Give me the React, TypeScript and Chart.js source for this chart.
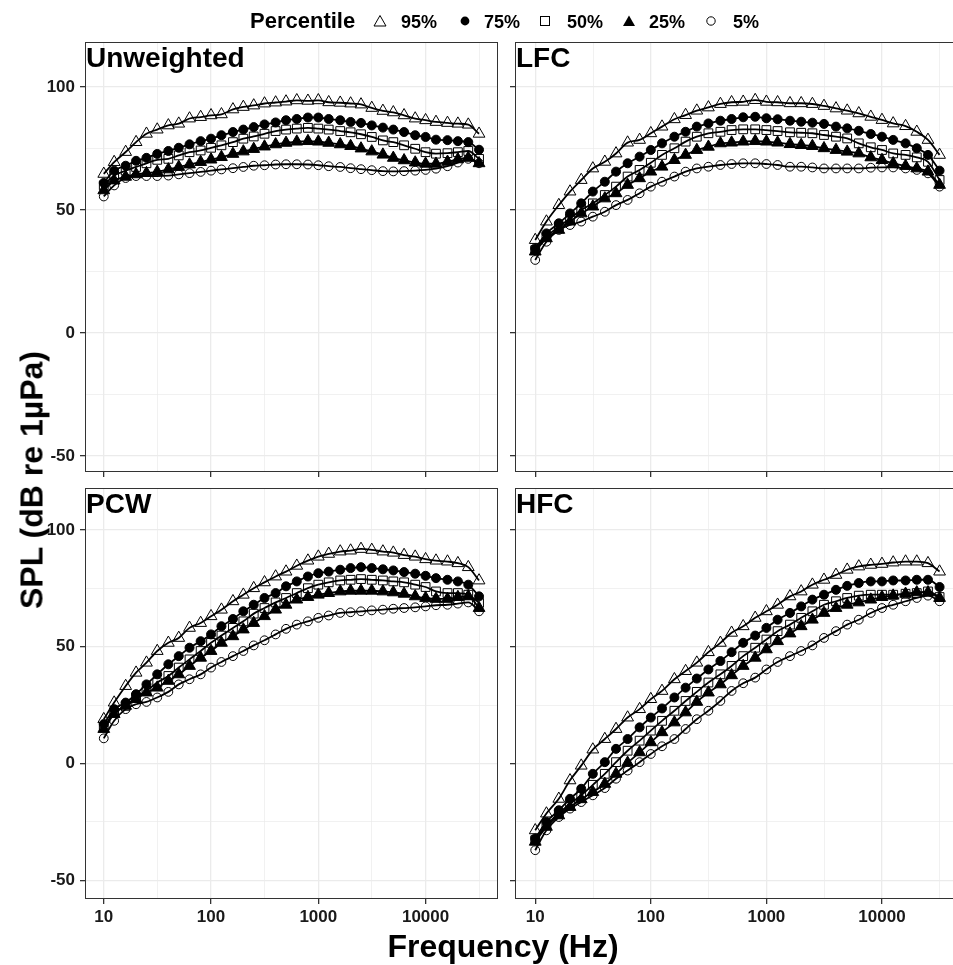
import React, { useEffect, useRef } from "react";
import { Chart, registerables } from "chart.js";

Chart.register(...registerables);

// ---------- data ----------
const frequencies = [
  10, 12.5, 16, 20, 25, 31.5, 40, 50, 63, 80, 100, 125, 160, 200, 250, 315, 400, 500, 630, 800,
  1000, 1250, 1600, 2000, 2500, 3150, 4000, 5000, 6300, 8000, 10000, 12500, 16000, 20000, 25000, 31500,
];

const percentiles = ["95%", "75%", "50%", "25%", "5%"];
const panelNames = ["Unweighted", "LFC", "PCW", "HFC"];

const unweighted95 = [64.7, 69.5, 73.6, 77.6, 81.0, 82.7, 84.4, 85.1, 87.2, 87.8, 88.5, 88.9, 90.9, 91.9, 92.5, 93.3, 93.7, 94.1, 94.6, 94.4, 94.6, 93.8, 93.6, 93.3, 92.9, 91.5, 90.3, 89.7, 88.5, 87.2, 86.5, 85.8, 85.4, 85.1, 84.7, 81.0];
const unweighted75 = [61.0, 66.0, 68.0, 70.0, 71.2, 72.8, 74.0, 75.3, 76.7, 78.0, 79.0, 80.4, 81.7, 82.7, 83.7, 84.8, 85.6, 86.5, 87.0, 87.6, 87.6, 87.0, 86.5, 85.8, 85.4, 84.4, 83.5, 82.7, 81.7, 80.4, 79.7, 78.6, 78.4, 78.0, 77.6, 74.5];
const unweighted50 = [60.0, 64.0, 66.0, 67.5, 69.0, 70.4, 70.8, 72.2, 73.5, 74.2, 75.3, 76.3, 77.6, 79.0, 79.9, 81.0, 82.1, 82.7, 83.1, 83.4, 83.1, 82.7, 82.1, 81.6, 80.8, 79.7, 78.3, 77.6, 76.3, 74.9, 73.5, 72.9, 73.1, 73.5, 74.0, 70.8];
const unweighted25 = [58.0, 62.0, 63.5, 64.5, 65.0, 65.5, 66.5, 67.5, 68.5, 69.5, 70.5, 71.5, 72.8, 73.8, 74.8, 75.8, 76.7, 77.3, 77.8, 78.0, 77.8, 77.3, 76.7, 76.0, 75.0, 73.8, 72.5, 71.2, 70.2, 69.3, 68.8, 68.8, 69.6, 70.6, 71.2, 69.0];
const unweighted5 = [55.5, 60.0, 63.0, 63.8, 63.8, 63.8, 64.0, 64.5, 65.0, 65.5, 66.0, 66.5, 67.0, 67.5, 68.0, 68.2, 68.5, 68.6, 68.6, 68.5, 68.2, 67.8, 67.5, 67.0, 66.6, 66.2, 65.8, 65.7, 65.8, 66.0, 66.3, 66.8, 67.8, 69.3, 70.8, 69.0];

const lfc95 = [37.8, 45.3, 52.0, 57.5, 62.2, 66.9, 69.6, 73.0, 77.4, 78.5, 81.2, 83.9, 86.9, 88.6, 90.4, 91.7, 93.1, 93.8, 94.0, 94.7, 94.0, 93.8, 93.4, 93.4, 93.1, 92.3, 91.3, 90.4, 89.3, 87.9, 86.6, 85.2, 84.1, 81.8, 78.5, 72.4];
const lfc75 = [34.4, 40.5, 44.6, 48.6, 52.7, 57.5, 61.5, 65.6, 69.0, 71.7, 74.4, 77.1, 79.8, 81.8, 83.9, 85.2, 86.3, 87.0, 87.7, 87.9, 87.3, 86.9, 86.3, 85.9, 85.5, 85.0, 83.9, 83.2, 82.2, 80.9, 79.8, 78.5, 77.1, 75.1, 72.4, 66.0];
const lfc50 = [33.7, 39.2, 43.2, 46.6, 50.0, 52.7, 56.1, 59.5, 63.6, 66.3, 69.2, 72.4, 75.1, 77.8, 79.8, 81.2, 81.8, 82.5, 82.8, 82.8, 82.5, 82.1, 81.6, 81.4, 81.2, 80.5, 79.8, 79.1, 77.1, 75.5, 74.4, 73.0, 72.4, 71.4, 69.6, 62.2];
const lfc25 = [33.1, 38.5, 41.9, 45.3, 48.6, 51.4, 54.7, 56.8, 60.2, 62.9, 65.6, 67.6, 70.3, 72.4, 74.4, 75.7, 77.1, 77.4, 77.8, 78.0, 77.8, 77.4, 76.8, 76.4, 76.0, 75.1, 74.4, 73.7, 73.0, 71.4, 70.3, 69.0, 67.9, 66.9, 65.6, 60.2];
const lfc5 = [29.7, 37.1, 41.9, 43.9, 45.3, 47.3, 49.3, 52.0, 54.1, 56.8, 59.5, 61.5, 63.6, 65.6, 66.9, 67.6, 68.3, 68.7, 69.0, 69.0, 68.7, 68.3, 67.6, 67.6, 67.3, 66.9, 66.9, 66.9, 66.9, 67.2, 67.3, 67.3, 66.9, 66.3, 64.9, 59.5];

const pcw95 = [19.0, 26.1, 33.2, 38.9, 43.2, 48.2, 51.7, 53.8, 58.1, 60.2, 63.1, 65.9, 69.5, 72.3, 75.1, 77.6, 80.1, 82.2, 84.7, 86.9, 88.6, 89.8, 90.8, 91.2, 91.9, 91.5, 90.8, 90.3, 89.3, 88.6, 87.5, 86.9, 86.5, 85.8, 84.1, 78.4];
const pcw75 = [16.9, 23.3, 26.1, 29.7, 33.9, 38.2, 42.5, 46.0, 49.6, 52.4, 55.3, 58.8, 61.9, 65.2, 68.0, 70.9, 73.0, 75.9, 78.0, 80.1, 81.5, 82.2, 83.0, 83.7, 84.1, 83.7, 83.2, 82.7, 82.0, 81.3, 80.4, 79.4, 78.7, 78.0, 76.6, 71.6];
const pcw50 = [15.5, 21.9, 24.7, 28.3, 31.1, 34.7, 37.5, 41.1, 44.6, 48.2, 51.7, 54.8, 58.1, 60.9, 64.2, 66.6, 69.0, 70.9, 73.0, 75.1, 76.6, 77.6, 78.4, 78.7, 79.0, 78.7, 78.4, 78.0, 77.6, 76.6, 75.6, 73.7, 73.0, 73.0, 72.3, 68.8];
const pcw25 = [14.8, 21.2, 24.7, 27.6, 30.4, 32.5, 35.4, 38.2, 41.8, 45.3, 48.2, 51.7, 54.5, 57.4, 60.2, 63.1, 65.9, 68.0, 70.2, 71.3, 72.3, 73.0, 73.7, 74.0, 74.0, 74.0, 73.7, 73.3, 72.7, 71.6, 70.9, 70.5, 70.5, 71.3, 71.6, 66.6];
const pcw5 = [10.8, 18.3, 23.3, 25.4, 26.4, 28.3, 30.7, 33.9, 36.1, 38.2, 41.1, 43.5, 46.0, 48.2, 50.6, 52.8, 55.3, 57.7, 59.5, 60.9, 62.4, 63.4, 64.5, 64.8, 65.2, 65.6, 65.9, 66.3, 66.6, 66.9, 67.3, 67.8, 68.0, 68.5, 69.0, 65.2];

const hfc95 = [-28.6, -21.4, -15.1, -7.2, -0.9, 6.0, 10.5, 14.8, 19.7, 23.3, 27.6, 31.1, 36.1, 39.6, 43.2, 47.7, 51.7, 56.0, 58.8, 62.4, 65.2, 68.0, 71.6, 73.7, 76.6, 78.7, 80.8, 83.0, 84.4, 85.1, 85.5, 86.1, 86.5, 86.5, 85.8, 82.2];
const hfc75 = [-32.1, -25.0, -20.0, -15.1, -10.8, -4.4, 0.6, 6.3, 10.5, 15.5, 19.7, 23.6, 28.3, 32.5, 36.4, 40.3, 43.9, 47.7, 51.7, 54.8, 58.1, 61.6, 64.5, 67.3, 70.2, 72.3, 74.4, 76.1, 77.3, 78.0, 78.0, 78.4, 78.4, 78.7, 78.7, 75.6];
const hfc50 = [-32.8, -26.4, -21.4, -17.2, -13.6, -9.1, -4.4, 0.6, 5.5, 9.8, 14.1, 18.3, 22.6, 26.8, 30.7, 34.7, 38.2, 41.8, 46.0, 49.6, 53.1, 56.7, 59.5, 62.4, 65.2, 68.0, 69.5, 70.9, 71.9, 72.3, 72.3, 72.3, 72.7, 73.0, 73.7, 71.3];
const hfc25 = [-33.5, -27.1, -22.2, -18.6, -15.3, -12.2, -8.7, -4.4, 0.3, 4.8, 9.1, 13.4, 17.6, 21.9, 26.4, 30.4, 33.9, 37.8, 41.8, 45.3, 48.9, 52.4, 55.7, 58.8, 61.6, 64.5, 66.6, 68.0, 69.0, 70.2, 71.3, 71.9, 72.7, 73.3, 73.3, 70.9];
const hfc5 = [-37.1, -28.6, -22.9, -19.3, -16.5, -13.6, -10.5, -6.5, -3.0, 0.6, 4.1, 7.4, 10.5, 14.8, 19.0, 22.6, 26.8, 31.1, 34.4, 36.8, 40.3, 43.5, 46.0, 48.2, 50.6, 53.8, 56.7, 59.5, 61.6, 64.5, 66.6, 68.0, 69.5, 70.9, 71.9, 69.5];

const xTickValues = [10, 31.6227766, 100, 316.227766, 1000, 3162.27766, 10000, 31622.7766];
const xTickLabels = ["10", "", "100", "", "1000", "", "10000", ""];
const yTickValues = [-50, -25, 0, 25, 50, 75, 100];
const yTickLabels = ["-50", "", "0", "", "50", "", "100"];

// ---------- styling ----------
const FONT = '"Liberation Sans", Arial, Helvetica, sans-serif';
const pointStyles = ["triangle", "circle", "rect", "triangle", "circle"];
const pointRadii = [6.8, 4.5, 6.2, 6.8, 4.4];
const pointFills = ["rgba(0,0,0,0)", "#000", "rgba(0,0,0,0)", "#000", "rgba(0,0,0,0)"];

const X_MIN = Math.pow(10, 0.825);
const X_MAX = Math.pow(10, 4.675);

type Geo = {
  left: number; top: number; width: number; height: number;
  yAxisW: number; xAxisH: number; padTop: number; padRight: number;
  yMin: number; yMax: number; showX: boolean; showY: boolean;
};

const panelDecor = {
  id: "panelDecor",
  afterDatasetsDraw(chart: any, _args: any, opts: any) {
    const { ctx, chartArea } = chart;
    const { left, top, right, bottom } = chartArea;
    ctx.save();
    ctx.strokeStyle = "#333333";
    ctx.lineWidth = 1;
    ctx.strokeRect(Math.round(left) + 0.5, Math.round(top) + 0.5, Math.round(right - left) - 1, Math.round(bottom - top) - 1);
    ctx.font = `bold 28px ${FONT}`;
    ctx.fillStyle = "#000";
    ctx.textBaseline = "alphabetic";
    ctx.textAlign = "left";
    ctx.fillText(opts.title, left + 1, top + 25);
    ctx.restore();
  },
};

function isMajorX(v: number) {
  const l = Math.log10(v);
  return Math.abs(l - Math.round(l)) < 1e-6;
}

function zeroPadding(s: any) {
  s.paddingTop = 0;
  s.paddingBottom = 0;
  s.paddingLeft = 0;
  s.paddingRight = 0;
}

function Panel({ name, series, geo }: { name: string; series: number[][]; geo: Geo }) {
  const ref = useRef<HTMLCanvasElement | null>(null);
  useEffect(() => {
    if (!ref.current) return;
    const datasets = series.map((vals, i) => ({
      label: percentiles[i],
      data: frequencies.map((f, j) => ({ x: f, y: vals[j] })),
      borderColor: "#000",
      borderWidth: 1.8,
      pointStyle: pointStyles[i],
      pointRadius: pointRadii[i],
      pointBackgroundColor: pointFills[i],
      pointBorderColor: "#000",
      pointBorderWidth: 1,
      cubicInterpolationMode: "monotone",
      fill: false,
    }));
    const chart = new Chart(ref.current, {
      type: "line",
      data: { datasets } as any,
      plugins: [panelDecor as any],
      options: {
        animation: false,
        responsive: false,
        maintainAspectRatio: false,
        events: [],
        layout: {
          autoPadding: false,
          padding: { left: 0, right: geo.padRight, top: geo.padTop, bottom: 0 },
        },
        plugins: {
          legend: { display: false },
          tooltip: { enabled: false },
          panelDecor: { title: name },
        } as any,
        scales: {
          x: {
            type: "logarithmic",
            min: X_MIN,
            max: X_MAX,
            bounds: "data",
            afterBuildTicks: (s: any) => {
              s.ticks = xTickValues.map((v) => ({ value: v }));
            },
            afterFit: (s: any) => {
              s.height = geo.xAxisH;
              zeroPadding(s);
            },
            ticks: {
              display: geo.showX,
              autoSkip: false,
              maxRotation: 0,
              padding: 3,
              color: "#1a1a1a",
              font: { family: FONT, size: 17, weight: "bold" },
              callback: (v: any) => {
                const idx = xTickValues.findIndex((t) => Math.abs(t - Number(v)) / t < 1e-6);
                return idx >= 0 ? xTickLabels[idx] : "";
              },
            },
            grid: {
              color: "#EBEBEB",
              lineWidth: (c: any) => (c.tick && isMajorX(c.tick.value) ? 1.3 : 0.7),
              tickColor: (c: any) => (c.tick && isMajorX(c.tick.value) ? "#333333" : "rgba(0,0,0,0)"),
              tickLength: 5,
              drawTicks: true,
            },
            border: { display: false },
          },
          y: {
            type: "linear",
            min: geo.yMin,
            max: geo.yMax,
            bounds: "data",
            afterBuildTicks: (s: any) => {
              s.ticks = yTickValues.map((v) => ({ value: v }));
            },
            afterFit: (s: any) => {
              s.width = geo.yAxisW;
              zeroPadding(s);
            },
            ticks: {
              display: geo.showY,
              autoSkip: false,
              padding: 5,
              color: "#1a1a1a",
              font: { family: FONT, size: 17, weight: "bold" },
              callback: (v: any) => {
                const idx = yTickValues.indexOf(Number(v));
                return idx >= 0 ? yTickLabels[idx] : "";
              },
            },
            grid: {
              color: "#EBEBEB",
              lineWidth: (c: any) => (c.tick && c.tick.value % 50 === 0 ? 1.3 : 0.7),
              tickColor: (c: any) => (c.tick && c.tick.value % 50 === 0 ? "#333333" : "rgba(0,0,0,0)"),
              tickLength: 5,
              drawTicks: true,
            },
            border: { display: false },
          },
        },
      } as any,
    });
    return () => chart.destroy();
  }, []);
  return (
    <canvas
      ref={ref}
      width={geo.width}
      height={geo.height}
      style={{ position: "absolute", left: geo.left, top: geo.top, width: geo.width, height: geo.height }}
    />
  );
}

const geos: Geo[] = [
  { left: 0, top: 0, width: 500, height: 480, yAxisW: 85, xAxisH: 8, padTop: 42, padRight: 2, yMin: -56.5, yMax: 118.3, showX: false, showY: true },
  { left: 500, top: 0, width: 465, height: 480, yAxisW: 15, xAxisH: 8, padTop: 42, padRight: 5, yMin: -56.5, yMax: 118.3, showX: false, showY: false },
  { left: 0, top: 480, width: 500, height: 485, yAxisW: 85, xAxisH: 66, padTop: 8, padRight: 2, yMin: -58, yMax: 118, showX: true, showY: true },
  { left: 500, top: 480, width: 465, height: 485, yAxisW: 15, xAxisH: 66, padTop: 8, padRight: 5, yMin: -58, yMax: 118, showX: true, showY: false },
];

const panelSeries = [
  [unweighted95, unweighted75, unweighted50, unweighted25, unweighted5],
  [lfc95, lfc75, lfc50, lfc25, lfc5],
  [pcw95, pcw75, pcw50, pcw25, pcw5],
  [hfc95, hfc75, hfc50, hfc25, hfc5],
];

function Symbol({ kind }: { kind: number }) {
  const s = 14;
  let el: any = null;
  if (kind === 0) el = <polygon points="7,1.5 13,12 1,12" fill="none" stroke="#000" strokeWidth="1" />;
  if (kind === 1) el = <circle cx="7" cy="7" r="4.4" fill="#000" />;
  if (kind === 2) el = <rect x="2.5" y="2.5" width="9" height="9" fill="none" stroke="#000" strokeWidth="1" />;
  if (kind === 3) el = <polygon points="7,1.5 13,12 1,12" fill="#000" />;
  if (kind === 4) el = <circle cx="7" cy="7" r="4.2" fill="none" stroke="#000" strokeWidth="1" />;
  return (
    <svg width={s} height={s} style={{ display: "block" }}>
      {el}
    </svg>
  );
}

const legendSymbolX = [380, 465, 545, 629, 711];
const legendLabelX = [401, 484, 567, 649, 733];

export default function App() {
  return (
    <div
      style={{
        position: "absolute", left: 0, top: 0, width: 953, height: 965, overflow: "hidden",
        background: "#fff", fontFamily: FONT, fontWeight: "bold", color: "#000",
      }}
    >
      {geos.map((g, i) => (
        <Panel key={i} name={panelNames[i]} series={panelSeries[i]} geo={g} />
      ))}
      <div style={{ position: "absolute", left: 250, top: 8, fontSize: 22, lineHeight: "26px" }}>Percentile</div>
      {percentiles.map((p, i) => (
        <React.Fragment key={p}>
          <div style={{ position: "absolute", left: legendSymbolX[i] - 7, top: 14 }}>
            <Symbol kind={i} />
          </div>
          <div style={{ position: "absolute", left: legendLabelX[i], top: 10, fontSize: 18, lineHeight: "24px" }}>{p}</div>
        </React.Fragment>
      ))}
      <div
        style={{
          position: "absolute", left: 32, top: 480, fontSize: 32, whiteSpace: "nowrap",
          transform: "translate(-50%, -50%) rotate(-90deg)",
        }}
      >
        SPL (dB re 1µPa)
      </div>
      <div
        style={{
          position: "absolute", left: 503, top: 946, fontSize: 32, whiteSpace: "nowrap",
          transform: "translate(-50%, -50%)",
        }}
      >
        Frequency (Hz)
      </div>
    </div>
  );
}
